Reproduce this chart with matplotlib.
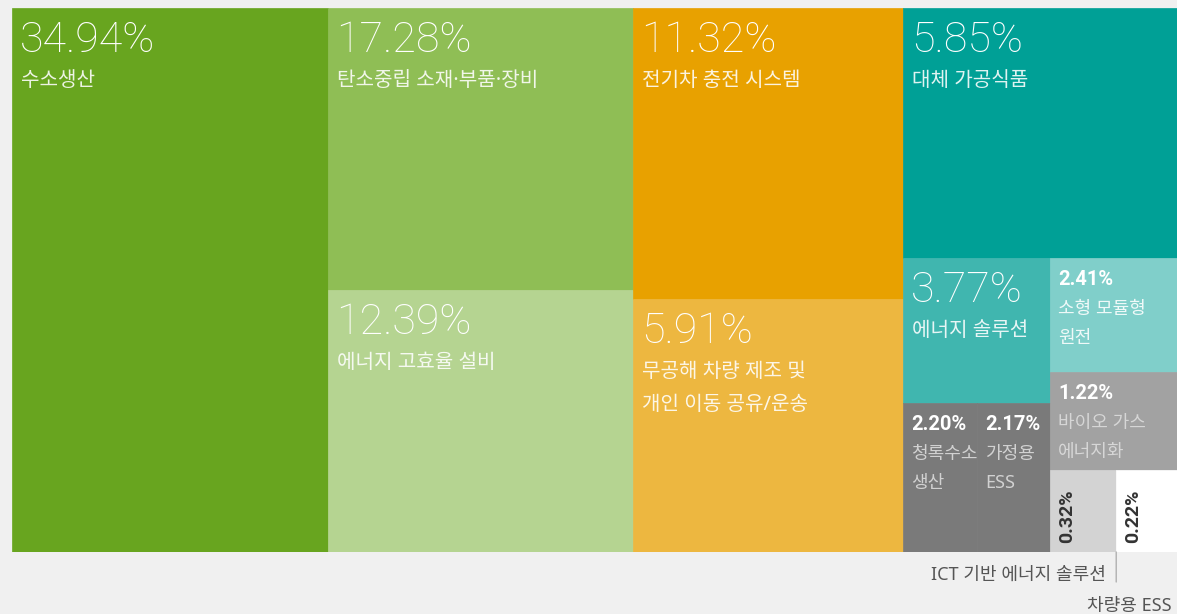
import matplotlib.pyplot as plt
from matplotlib.patches import Rectangle

# Data
labels = ['수소생산', '탄소중립 소재·부품·장비', '에너지 고효율 설비', '전기차 충전 시스템',
          '무공해 차량 제조 및\n개인 이동 공유/운송', '대체 가공식품', '에너지 솔루션',
          '청록수소\n생산', '가정용\nESS', '소형 모듈형\n원전', '바이오 가스\n에너지화',
          'ICT 기반 에너지 솔루션', '차량용 ESS']
shares = [34.94, 17.28, 12.39, 11.32, 5.91, 5.85, 3.77, 2.20, 2.17, 2.41, 1.22, 0.32, 0.22]
colors = ['#68a51f', '#8fbe55', '#b5d491', '#e8a100', '#edb740', '#00a096', '#40b6af',
          '#7a7a7a', '#7a7a7a', '#80cfca', '#a2a2a2', '#d3d3d3', '#ffffff']

# nesting of the treemap (indices into the lists above), 'h' = side by side, 'v' = stacked
tree = ('h', [0,
              ('v', [1, 2]),
              ('v', [3, 4]),
              ('v', [5, ('h', [('v', [6, ('h', [7, 8])]),
                               ('v', [9, 10, ('h', [11, 12])])])])])
POWER = 0.22  # damp the size differences so the small groups stay readable

FONT_NUM = ['Roboto', 'Noto Sans CJK KR']
FONT_KR = ['Noto Sans', 'Noto Sans CJK KR']
PX = 0.72  # points per pixel at dpi 100


def leaf_sum(node):
    if isinstance(node, int):
        return shares[node]
    return sum(leaf_sum(c) for c in node[1])


def layout(node, x, y, w, h, out):
    if isinstance(node, int):
        out[node] = (x, y, w, h)
        return
    direction, children = node
    weights = [leaf_sum(c) ** POWER for c in children]
    total = sum(weights)
    for c, wt in zip(children, weights):
        f = wt / total
        if direction == 'h':
            layout(c, x, y, w * f, h, out)
            x += w * f
        else:
            layout(c, x, y, w, h * f, out)
            y += h * f


boxes = {}
layout(tree, 0, 0, 1, 1, boxes)

fig = plt.figure(figsize=(11.77, 6.14), dpi=100, facecolor='#f0f0f0')
ax = fig.add_axes([12 / 1177, 62 / 614, 1165 / 1177, 544 / 614])
ax.set_xlim(0, 1)
ax.set_ylim(1, 0)
ax.axis('off')


def put(text, xy, dx, dy, **kw):
    ax.annotate(text, xy=xy, xytext=(dx * PX, dy * PX), textcoords='offset points',
                annotation_clip=False, **kw)


tiny = 0
for i, (name, val, col) in enumerate(zip(labels, shares, colors)):
    x, y, w, h = boxes[i]
    ax.add_patch(Rectangle((x, y), w, h, facecolor=col, edgecolor=col, linewidth=0.5))
    pct = f'{val:.2f}%'
    grey = col in ('#7a7a7a', '#a2a2a2')
    lab_col = '#dedede' if grey else 'white'
    if val >= 3:
        put(pct, (x, y), 8, -44, fontsize=31, family=FONT_NUM, fontweight='light',
            color='white', va='baseline')
        for k, line in enumerate(name.split('\n')):
            put(line, (x, y), 9, -78 - 33 * k, fontsize=14.5, family=FONT_KR,
                color=lab_col, alpha=0.88, va='baseline')
    elif val >= 1:
        put(pct, (x, y), 8, -27, fontsize=14.5, family=FONT_NUM, fontweight='bold',
            color='white', va='baseline')
        for k, line in enumerate(name.split('\n')):
            put(line, (x, y), 8, -56 - 29 * k, fontsize=13, family=FONT_KR,
                color=lab_col, alpha=0.88, va='baseline')
    else:
        put(pct, (x, y + h), 8, 9, fontsize=14, family=FONT_NUM, fontweight='bold',
            color='#333333', rotation=90, rotation_mode='anchor', ha='left', va='top')
        if tiny == 0:
            ax.annotate('', xy=(x + w, 1), xytext=(0, -30 * PX), textcoords='offset points',
                        annotation_clip=False,
                        arrowprops=dict(arrowstyle='-', color='#b0b0b0', lw=1,
                                        shrinkA=0, shrinkB=0))
            put(name, (x + w, 1), -10, -28, fontsize=13, family=FONT_KR, color='#555555',
                ha='right', va='baseline')
        else:
            put(name, (x + w, 1), -5, -59, fontsize=13, family=FONT_KR, color='#555555',
                ha='right', va='baseline')
        tiny += 1

fig.savefig('out.png', dpi=100, facecolor=fig.get_facecolor())
